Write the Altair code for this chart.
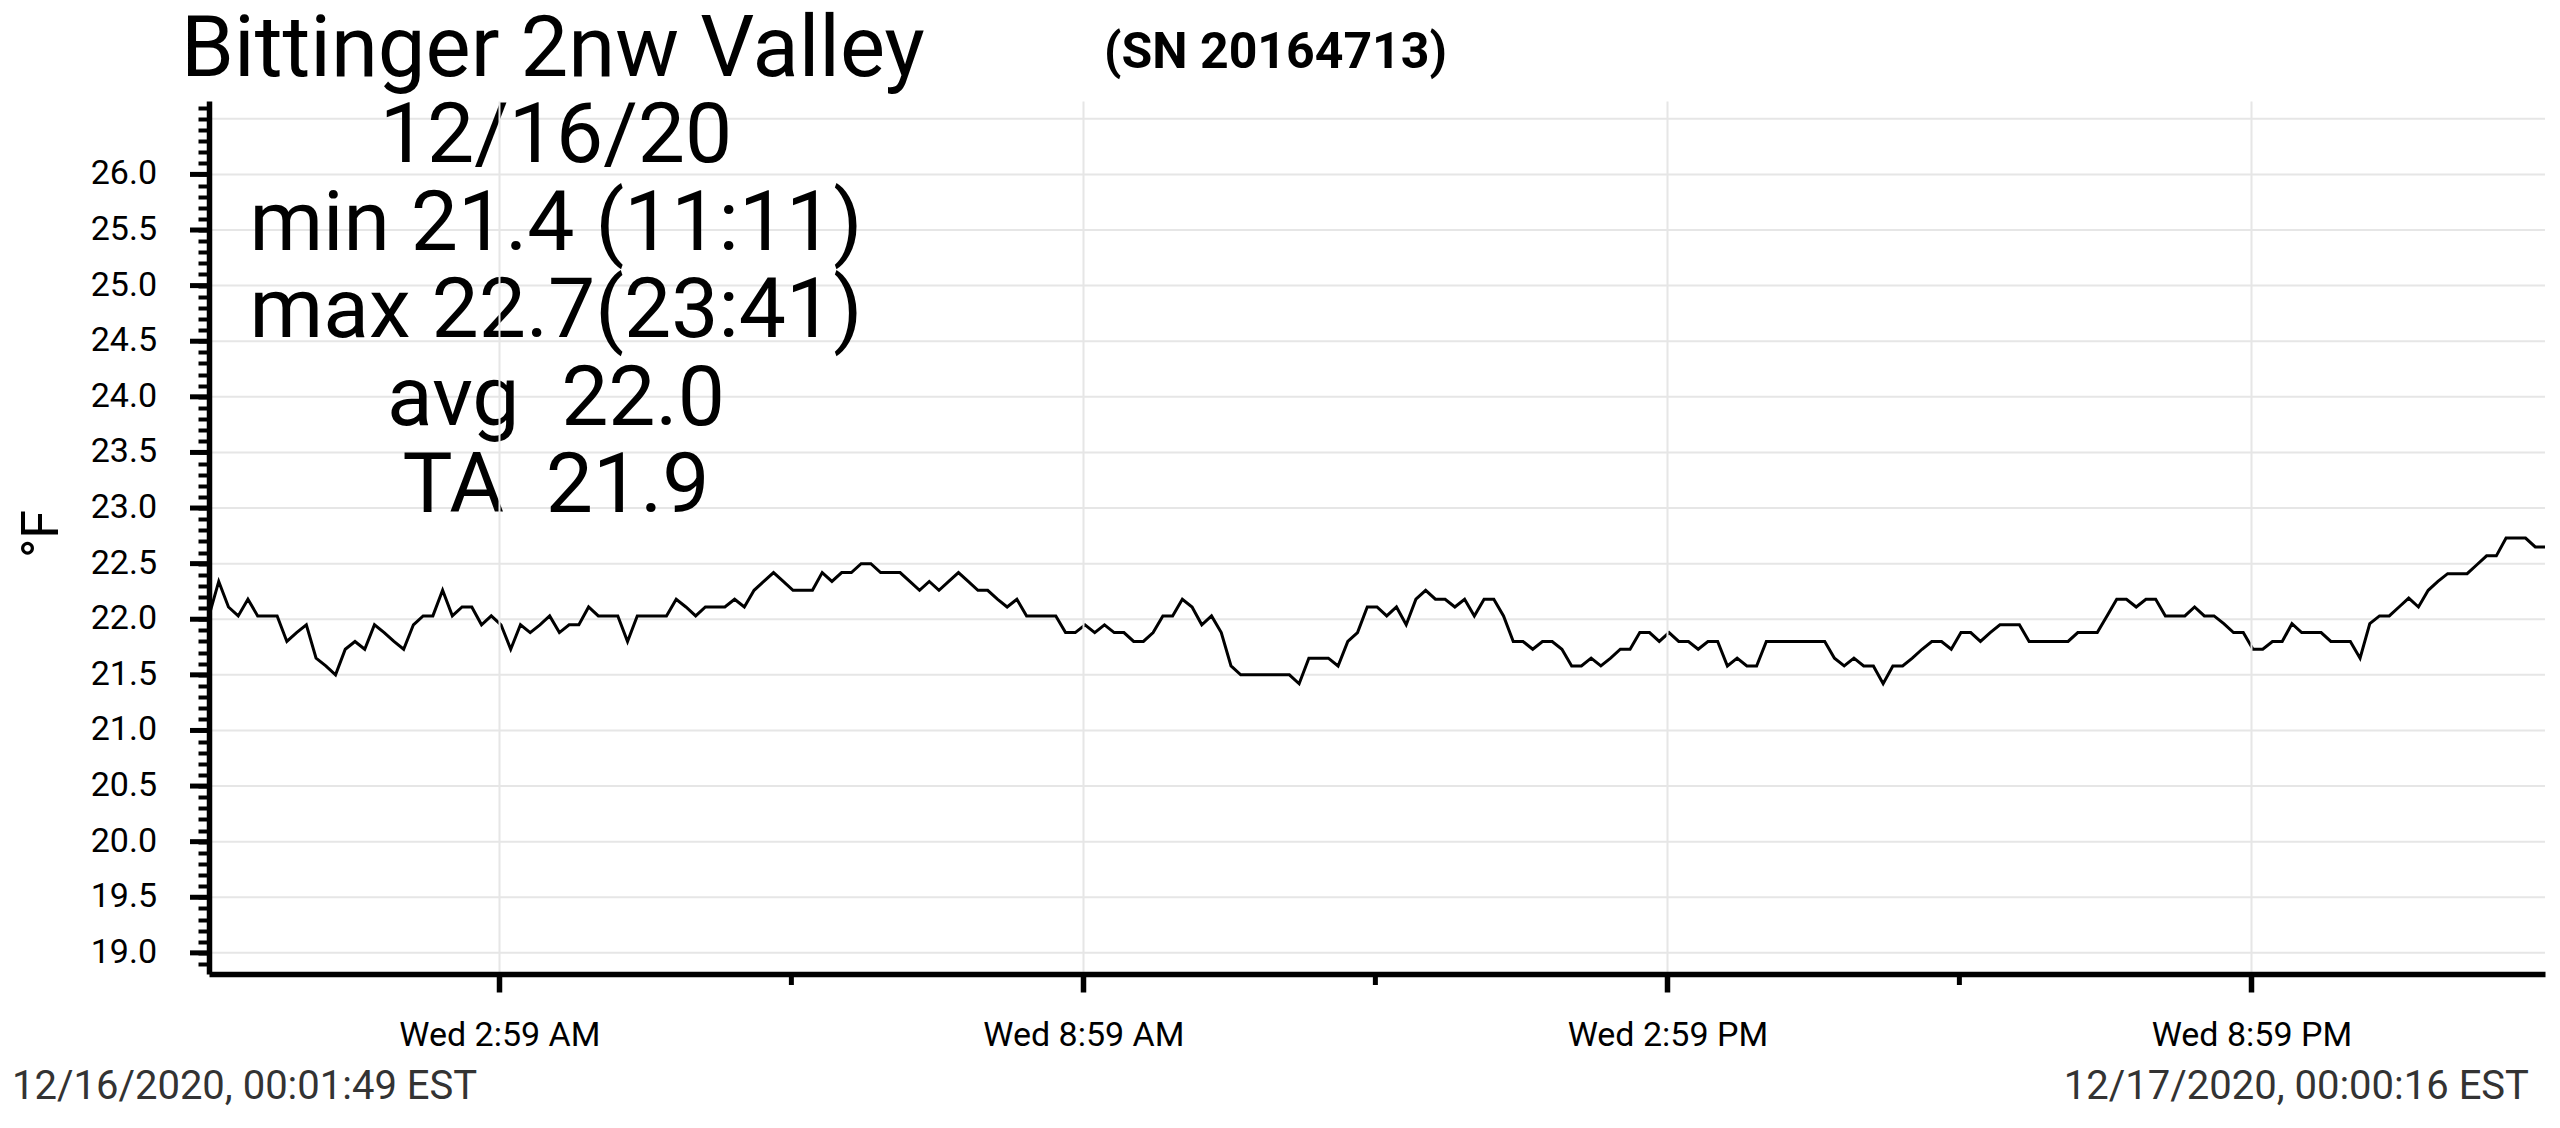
import altair as alt
import pandas as pd

# ---------------- text content ----------------
station = "Bittinger 2nw Valley"
serial = "(SN 20164713)"
stats_lines = ["12/16/20", "min 21.4 (11:11)", "max 22.7(23:41)",
               "avg\u00a0\u00a022.0", "TA\u00a0\u00a021.9"]
unit_label = "°F"
start_label = "12/16/2020, 00:01:49 EST"
end_label = "12/17/2020, 00:00:16 EST"

# ---------------- temperature readings (°F, one every 6 minutes) ----------------
temps_a = [22.03, 22.34, 22.11, 22.03, 22.18, 22.03, 22.03, 22.03, 21.80, 21.88,
           21.95, 21.65, 21.58, 21.50, 21.73, 21.80, 21.73, 21.95, 21.88, 21.80,
           21.73, 21.95, 22.03, 22.03, 22.26, 22.03, 22.11, 22.11, 21.95, 22.03,
           21.95, 21.73, 21.95, 21.88, 21.95, 22.03, 21.88, 21.95, 21.95, 22.11,
           22.03, 22.03, 22.03]
temps_b = [21.80, 22.03, 22.03, 22.03, 22.03, 22.18, 22.11, 22.03, 22.11, 22.11,
           22.11, 22.18, 22.11, 22.26, 22.34, 22.42, 22.34, 22.26, 22.26, 22.26,
           22.42, 22.34, 22.42, 22.42, 22.50, 22.50, 22.42, 22.42, 22.42, 22.34,
           22.26, 22.34, 22.26, 22.34, 22.42, 22.34, 22.26, 22.26, 22.18, 22.11,
           22.18]
temps_c = [22.03, 22.03, 22.03, 22.03, 21.88, 21.88, 21.95, 21.88, 21.95, 21.88,
           21.88, 21.80, 21.80, 21.88, 22.03, 22.03, 22.18, 22.11, 21.95, 22.03,
           21.88, 21.58, 21.50, 21.50, 21.50, 21.50, 21.50, 21.50, 21.42, 21.65,
           21.65, 21.65, 21.58, 21.80, 21.88, 22.11, 22.11, 22.03, 22.11, 21.95,
           22.18]
temps_d = [22.26, 22.18, 22.18, 22.11, 22.18, 22.03, 22.18, 22.18, 22.03, 21.80,
           21.80, 21.73, 21.80, 21.80, 21.73, 21.58, 21.58, 21.65, 21.58, 21.65,
           21.73, 21.73, 21.88, 21.88, 21.80, 21.88, 21.80, 21.80, 21.73, 21.80,
           21.80, 21.58, 21.65, 21.58, 21.58, 21.80, 21.80, 21.80, 21.80, 21.80,
           21.80]
temps_e = [21.80, 21.65, 21.58, 21.65, 21.58, 21.58, 21.42, 21.58, 21.58, 21.65,
           21.73, 21.80, 21.80, 21.73, 21.88, 21.88, 21.80, 21.88, 21.95, 21.95,
           21.95, 21.80, 21.80, 21.80, 21.80, 21.80, 21.88, 21.88, 21.88, 22.03,
           22.18, 22.18, 22.11, 22.18, 22.18, 22.03, 22.03, 22.03, 22.11, 22.03,
           22.03]
temps_f = [21.96, 21.88, 21.88, 21.73, 21.73, 21.80, 21.80, 21.96, 21.88, 21.88,
           21.88, 21.80, 21.80, 21.80, 21.65, 21.96, 22.03, 22.03, 22.11, 22.19,
           22.11, 22.26, 22.34, 22.41, 22.41, 22.41, 22.49, 22.57, 22.57, 22.73,
           22.73, 22.73, 22.65, 22.65]
temps = temps_a + temps_b + temps_c + temps_d + temps_e + temps_f

times = pd.date_range("2020-12-16T00:00:00", periods=len(temps), freq="6min")
df = pd.DataFrame({"time": times.strftime("%Y-%m-%dT%H:%M:%SZ"), "temp": temps})

# ---------------- axis tick values ----------------
x_start = "2020-12-16T00:00:00Z"
x_end = "2020-12-17T00:00:00Z"
x_major = ["2020-12-16T02:59:00Z", "2020-12-16T08:59:00Z",
           "2020-12-16T14:59:00Z", "2020-12-16T20:59:00Z"]
x_minor = ["2020-12-16T05:59:00Z", "2020-12-16T11:59:00Z", "2020-12-16T17:59:00Z"]
y_grid = [19.0, 19.5, 20.0, 20.5, 21.0, 21.5, 22.0, 22.5, 23.0, 23.5,
          24.0, 24.5, 25.0, 25.5, 26.0, 26.5]
y_major = [19.0, 19.5, 20.0, 20.5, 21.0, 21.5, 22.0, 22.5, 23.0, 23.5,
           24.0, 24.5, 25.0, 25.5, 26.0]
y_minor = [round(18.9 + 0.1 * k, 1) for k in range(78)]
y_domain = [18.81, 26.66]


def ms(s):
    return int(pd.Timestamp(s).value // 10**6)


W, H = 2336, 873
FONT = "Roboto"

xscale = alt.Scale(type="utc", domain=[ms(x_start), ms(x_end)], nice=False)
yscale = alt.Scale(domain=y_domain, nice=False, zero=False)

grid_y = alt.Chart(pd.DataFrame({"g": y_grid})).mark_rule(
    color="#e6e6e6", strokeWidth=2
).encode(y=alt.Y("g:Q", scale=yscale, axis=None))

line = alt.Chart(df).mark_line(color="black", strokeWidth=3).encode(
    x=alt.X("time:T", scale=xscale, title=None,
            axis=alt.Axis(values=[ms(v) for v in x_major],
                          labelExpr="utcFormat(datum.value, '%a %-I:%M %p')",
                          tickSize=18, tickWidth=5.5, tickColor="black",
                          domainColor="black", domainWidth=5.5,
                          labelFont=FONT, labelFontSize=34, labelColor="black",
                          labelPadding=26, labelFlush=False, labelOverlap=False,
                          labelLimit=0,
                          grid=True, gridColor="#e6e6e6", gridWidth=2, zindex=1)),
    y=alt.Y("temp:Q", scale=yscale, title=None,
            axis=alt.Axis(values=y_minor, labels=False,
                          tickSize=11, tickWidth=4, tickColor="black",
                          domainColor="black", domainWidth=5.5,
                          grid=False, zindex=1)),
)

major_y_ticks = alt.Chart(pd.DataFrame({"v": y_major})).mark_rule(
    color="black", strokeWidth=5
).encode(y=alt.Y("v:Q", scale=yscale, axis=None), x=alt.value(-19), x2=alt.value(0))

y_labels = alt.Chart(pd.DataFrame({"v": y_major, "lab": [f"{v:.1f}" for v in y_major]})).mark_text(
    font=FONT, fontSize=34, align="right", baseline="middle", color="black"
).encode(y=alt.Y("v:Q", scale=yscale, axis=None), text="lab:N", x=alt.value(-52))

minor_x_ticks = alt.Chart(pd.DataFrame({"t": x_minor})).mark_rule(
    color="black", strokeWidth=5
).encode(x=alt.X("t:T", scale=xscale, axis=None), y=alt.value(H), y2=alt.value(H + 11))


def text_layer(txt, x, y, size, weight="normal", align="left", color="black",
               angle=0, line_height=None):
    kw = dict(font=FONT, fontSize=size, fontWeight=weight, align=align,
              baseline="alphabetic", color=color, angle=angle)
    if line_height is not None:
        kw.update(lineBreak="\n", lineHeight=line_height)
    return alt.Chart(pd.DataFrame({"s": [txt]})).mark_text(**kw).encode(
        text="s:N", x=alt.value(x), y=alt.value(y))


title_t = text_layer(station, -28, -25, 85)
serial_t = text_layer(serial, 895, -33, 50, weight="bold")
stats_t = text_layer("\n".join(stats_lines), 347, 61, 84, align="center", line_height=87.5)
unit_t = text_layer(unit_label, -151, 433, 52, align="center", angle=270)
start_t = text_layer(start_label, -197, 998, 40, color="#333333")
end_t = text_layer(end_label, 2320, 998, 40, align="right", color="#333333")

chart = alt.layer(
    grid_y, line, major_y_ticks, y_labels, minor_x_ticks,
    title_t, serial_t, stats_t, unit_t, start_t, end_t
).resolve_axis(
    x="independent", y="independent"
).properties(
    width=W, height=H,
    autosize=alt.AutoSizeParams(type="none"),
    padding={"left": 201, "top": 93, "right": 7, "bottom": 146},
    background="white",
).configure_view(stroke=None)

chart.save("out.html", embed_options={"renderer": "svg", "actions": False})
